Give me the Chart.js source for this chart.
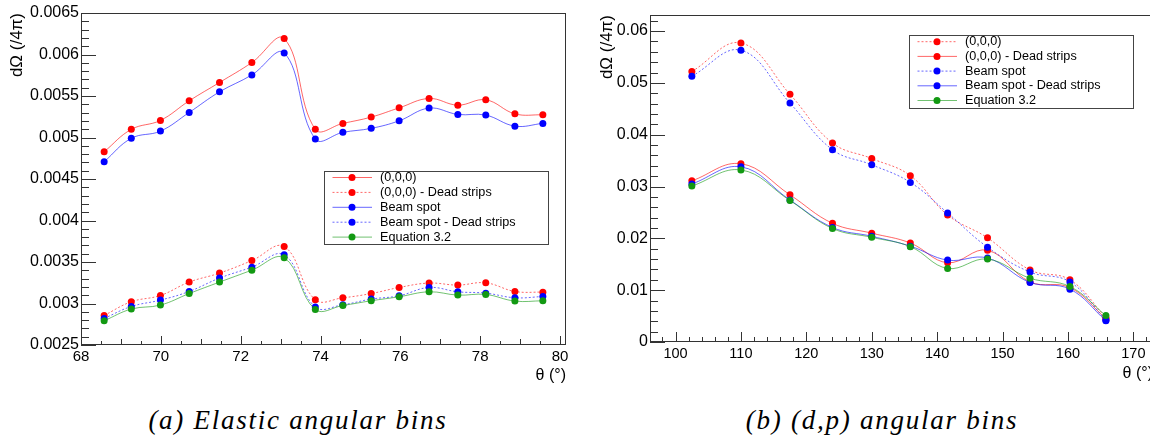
<!DOCTYPE html>
<html>
<head>
<meta charset="utf-8">
<script src="https://cdn.jsdelivr.net/npm/chart.js@4.4.0/dist/chart.umd.min.js"></script>
<style>
html, body { margin: 0; padding: 0; width: 1150px; height: 441px; overflow: hidden; background: #fff; }
#chartA { position: absolute; left: 0; top: 0; }
#chartB { position: absolute; left: 575px; top: 0; }
.caption { position: absolute; top: 405px; font: italic 27px "Liberation Serif", serif; letter-spacing: 1.75px; white-space: nowrap; transform: translateX(-50%); color: #000; }
</style>
</head>
<body>
<canvas id="chartA" width="575" height="390"></canvas>
<canvas id="chartB" width="582" height="390"></canvas>
<div class="caption" style="left:298px">(a) Elastic angular bins</div>
<div class="caption" style="left:882px">(b) (d,p) angular bins</div>
<script>
// --- (a) elastic angular bins ---
const thetaA = [68.58, 69.26, 69.99, 70.71, 71.47, 72.28, 73.09, 73.87, 74.56, 75.27, 75.97, 76.72, 77.44, 78.14, 78.87, 79.57];
const originA = [0.004828, 0.005098, 0.005206, 0.005442, 0.005663, 0.005903, 0.006192, 0.005098, 0.00517, 0.005246, 0.005357, 0.00547, 0.00539, 0.005454, 0.005285, 0.005273];
const originDeadA = [0.002856, 0.003021, 0.003097, 0.003258, 0.003366, 0.003517, 0.003686, 0.003045, 0.003069, 0.00312, 0.003193, 0.003246, 0.003222, 0.003249, 0.003145, 0.003137];
const beamA = [0.004708, 0.00499, 0.005077, 0.005302, 0.00555, 0.005754, 0.006019, 0.004981, 0.005062, 0.00511, 0.005201, 0.005354, 0.005278, 0.00527, 0.005137, 0.00517];
const beamDeadA = [0.00282, 0.002964, 0.003041, 0.003145, 0.003306, 0.003438, 0.003586, 0.002957, 0.002985, 0.003053, 0.003093, 0.003193, 0.003141, 0.003125, 0.003069, 0.003084];
const eqA = [0.002792, 0.002933, 0.002981, 0.00312, 0.003258, 0.003402, 0.00355, 0.002928, 0.002976, 0.003033, 0.003081, 0.003141, 0.003101, 0.003109, 0.003029, 0.003033];
const xTicksA = [68, 70, 72, 74, 76, 78, 80];
const yTicksA = [0.0025, 0.003, 0.0035, 0.004, 0.0045, 0.005, 0.0055, 0.006, 0.0065];

// --- (b) (d,p) angular bins ---
const thetaB = [102.5, 110.0, 117.5, 124.0, 130.0, 135.9, 141.6, 147.7, 154.2, 160.3, 165.8];
const originB = [0.0522, 0.0577, 0.0478, 0.0384, 0.0354, 0.0321, 0.0245, 0.0201, 0.0139, 0.0120, 0.0047];
const originDeadB = [0.0311, 0.0344, 0.0284, 0.0229, 0.0210, 0.0191, 0.0153, 0.0177, 0.0116, 0.0105, 0.0045];
const beamB = [0.0513, 0.0563, 0.0461, 0.0371, 0.0342, 0.0308, 0.0249, 0.0183, 0.0135, 0.0116, 0.0042];
const beamDeadB = [0.0305, 0.0338, 0.0274, 0.0221, 0.0204, 0.0185, 0.0158, 0.0162, 0.0115, 0.0102, 0.0041];
const eqB = [0.0301, 0.0332, 0.0273, 0.0219, 0.0202, 0.0184, 0.0142, 0.0160, 0.0123, 0.0107, 0.0051];
const xTicksB = [100, 110, 120, 130, 140, 150, 160, 170];
const yTicksB = [0, 0.01, 0.02, 0.03, 0.04, 0.05, 0.06];

const seriesNames = ['(0,0,0)', '(0,0,0) - Dead strips', 'Beam spot', 'Beam spot - Dead strips', 'Equation 3.2'];

const RED = '#ff0000', BLUE = '#0000ff', GREEN = '#129912';
const RED_LINE = 'rgba(255,0,0,0.6)', BLUE_LINE = 'rgba(0,0,255,0.6)', GREEN_LINE = 'rgba(18,153,18,0.6)';
const DASH = [2, 2];

Chart.defaults.font.family = "'Liberation Sans', Arial, sans-serif";
Chart.defaults.color = '#000';

// ROOT style frame + inward ticks
const rootAxes = {
    id: 'rootAxes',
    afterDatasetsDraw(chart, args, opts) {
        const ctx = chart.ctx;
        const a = chart.chartArea;
        const x = chart.scales.x, y = chart.scales.y;
        const L = Math.round(a.left), R = Math.round(a.right), T = Math.round(a.top), B = Math.round(a.bottom);
        ctx.save();
        ctx.lineWidth = 1;
        ctx.strokeStyle = '#333';
        ctx.beginPath();
        opts.xLevels.forEach(lv => {
            for (let k = Math.ceil(x.min / lv.step - 1e-9); k * lv.step <= x.max + 1e-9; k++) {
                const px = Math.round(x.getPixelForValue(k * lv.step)) + 0.5;
                ctx.moveTo(px, B);
                ctx.lineTo(px, B - lv.len);
            }
        });
        opts.yLevels.forEach(lv => {
            for (let k = Math.ceil(y.min / lv.step - 1e-9); k * lv.step <= y.max + 1e-9; k++) {
                const py = Math.round(y.getPixelForValue(k * lv.step)) + 0.5;
                ctx.moveTo(L, py);
                ctx.lineTo(L + lv.len, py);
            }
        });
        ctx.stroke();
        ctx.strokeRect(L + 0.5, T + 0.5, R - L - 1, B - T - 1);
        ctx.restore();
    }
};

// TLegend-like box inside the frame
const boxLegend = {
    id: 'boxLegend',
    afterDraw(chart, args, o) {
        const ctx = chart.ctx;
        ctx.save();
        ctx.fillStyle = '#fff';
        ctx.fillRect(o.left, o.top, o.width, o.height);
        ctx.lineWidth = 1;
        ctx.strokeStyle = '#444';
        ctx.strokeRect(o.left + 0.5, o.top + 0.5, o.width, o.height);
        ctx.font = o.fontSize + "px 'Liberation Sans', Arial, sans-serif";
        ctx.textBaseline = 'middle';
        chart.data.datasets.forEach((ds, i) => {
            const cy = o.top + o.rowStart + o.rowStep * i;
            ctx.strokeStyle = ds.borderColor;
            ctx.setLineDash(ds.borderDash || []);
            ctx.beginPath();
            ctx.moveTo(o.left + 8.5, cy);
            ctx.lineTo(o.left + 48, cy);
            ctx.stroke();
            ctx.setLineDash([]);
            ctx.fillStyle = ds.pointBackgroundColor;
            ctx.beginPath();
            ctx.arc(o.left + 28, cy, 3.5, 0, Math.PI * 2);
            ctx.fill();
            ctx.fillStyle = '#000';
            ctx.fillText(ds.label, o.left + 56, cy);
        });
        ctx.restore();
    }
};

function series(index, xs, ys, color, lineColor, dashed) {
    return {
        label: seriesNames[index],
        data: xs.map((x, i) => ({ x: x, y: ys[i] })),
        borderColor: lineColor,
        borderWidth: 1,
        borderDash: dashed ? DASH : [],
        pointBackgroundColor: color,
        pointBorderWidth: 0,
        pointRadius: 3.5,
        tension: 0.4,
        fill: false,
        order: 4 - index
    };
}

function makeChart(canvasId, cfg) {
    const canvas = document.getElementById(canvasId);
    return new Chart(canvas, {
        type: 'line',
        data: { datasets: cfg.datasets },
        plugins: [rootAxes, boxLegend],
        options: {
            responsive: false,
            animation: false,
            layout: { padding: { top: cfg.top, right: cfg.right, left: 0, bottom: 0 } },
            scales: {
                x: {
                    type: 'linear',
                    min: cfg.xMin,
                    max: cfg.xMax,
                    afterBuildTicks: s => { s.ticks = cfg.xTicks.map(v => ({ value: v })); },
                    afterFit: s => { s.height = canvas.height - cfg.bottom; },
                    grid: { display: false, drawTicks: false },
                    border: { display: false },
                    ticks: { autoSkip: false, maxRotation: 0, padding: 3, font: { size: cfg.xFont }, callback: v => String(v) },
                    title: { display: true, text: 'θ (°)', align: 'end', font: { size: 16 }, padding: { top: 0, bottom: cfg.xTitlePad } }
                },
                y: {
                    type: 'linear',
                    min: cfg.yMin,
                    max: cfg.yMax,
                    afterBuildTicks: s => { s.ticks = cfg.yTicks.map(v => ({ value: v })); },
                    afterFit: s => { s.width = cfg.left; },
                    grid: { display: false, drawTicks: false },
                    border: { display: false },
                    ticks: { autoSkip: false, padding: 2, font: { size: 16 }, callback: v => String(v) },
                    title: { display: true, text: 'dΩ (/4π)', align: 'end', font: { size: 17 }, padding: { top: cfg.yTitlePad, bottom: 0 } }
                }
            },
            plugins: {
                legend: { display: false },
                tooltip: { enabled: false },
                rootAxes: { xLevels: cfg.xLevels, yLevels: cfg.yLevels },
                boxLegend: cfg.legend
            }
        }
    });
}

makeChart('chartA', {
    datasets: [
        series(0, thetaA, originA, RED, RED_LINE, false),
        series(1, thetaA, originDeadA, RED, RED_LINE, true),
        series(2, thetaA, beamA, BLUE, BLUE_LINE, false),
        series(3, thetaA, beamDeadA, BLUE, BLUE_LINE, true),
        series(4, thetaA, eqA, GREEN, GREEN_LINE, false)
    ],
    xMin: 68, xMax: 80.15, yMin: 0.0025, yMax: 0.0065,
    xTicks: xTicksA, yTicks: yTicksA,
    left: 81, top: 13, right: 9, bottom: 345,
    xFont: 15, xTitlePad: 5, yTitlePad: 7,
    xLevels: [{ step: 0.5, len: 4 }, { step: 1, len: 6 }, { step: 2, len: 9 }],
    yLevels: [{ step: 0.0001, len: 8 }, { step: 0.0005, len: 15 }],
    legend: { left: 324, top: 171, width: 224, height: 73, rowStart: 6.5, rowStep: 14.9, fontSize: 12.65 }
});

makeChart('chartB', {
    datasets: [
        series(0, thetaB, originB, RED, RED_LINE, true),
        series(1, thetaB, originDeadB, RED, RED_LINE, false),
        series(2, thetaB, beamB, BLUE, BLUE_LINE, true),
        series(3, thetaB, beamDeadB, BLUE, BLUE_LINE, false),
        series(4, thetaB, eqB, GREEN, GREEN_LINE, false)
    ],
    xMin: 96.1, xMax: 173, yMin: 0, yMax: 0.0631,
    xTicks: xTicksB, yTicks: yTicksB,
    left: 75, top: 15, right: 2, bottom: 342,
    xFont: 14.5, xTitlePad: 7, yTitlePad: 22,
    xLevels: [{ step: 2, len: 5 }, { step: 10, len: 10 }],
    yLevels: [{ step: 0.002, len: 8 }, { step: 0.01, len: 15 }],
    legend: { left: 334, top: 35, width: 224, height: 73, rowStart: 6.7, rowStep: 14.7, fontSize: 12.65 }
});
</script>
</body>
</html>
